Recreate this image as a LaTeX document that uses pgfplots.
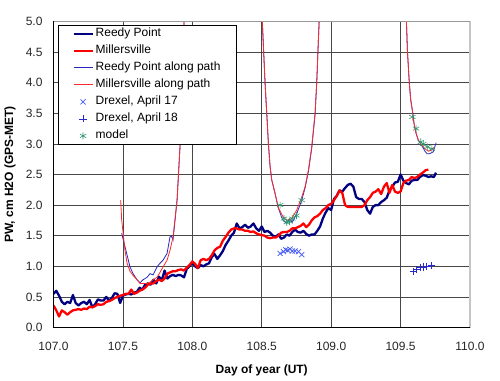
\documentclass[border=0pt]{standalone}
\usepackage{pgfplots}
\pgfplotsset{compat=1.18}
\usepackage{fontspec}
\setmainfont{Liberation Sans}
\definecolor{rpnavy}{RGB}{0,0,128}
\definecolor{mvred}{RGB}{255,0,0}
\definecolor{rpthin}{RGB}{40,40,190}
\definecolor{mvthin}{RGB}{255,40,40}
\definecolor{drexA}{RGB}{70,90,245}
\definecolor{drexB}{RGB}{40,40,210}
\definecolor{modelgreen}{RGB}{50,150,110}
\newcommand{\chartfont}{\fontsize{12bp}{14bp}\selectfont}
\begin{document}
\begin{tikzpicture}
\begin{axis}[
  scale only axis, width=416.5bp, height=306bp,
  xmin=107, xmax=110, ymin=0, ymax=5,
  xtick={107,107.5,108,108.5,109,109.5,110},
  ytick={0,0.5,1,1.5,2,2.5,3,3.5,4,4.5,5},
  grid=major,
  major grid style={draw=black!72, line width=0.8bp},
  major tick length=0pt,
  axis line style={draw=none},
  tick label style={font=\chartfont, text=black!85},
  /pgf/number format/assume math mode=true,
  xticklabel style={/pgf/number format/.cd, fixed, fixed zerofill, precision=1, /tikz/.cd, yshift=-11bp},
  yticklabel style={/pgf/number format/.cd, fixed, fixed zerofill, precision=1, /tikz/.cd, xshift=-7.5bp},
  xlabel={Day of year (UT)},
  ylabel={PW, cm H2O (GPS-MET)},
  every axis x label/.style={at={(axis description cs:0.5,-0.139)}, anchor=center, font=\chartfont\bfseries},
  every axis y label/.style={at={(axis description cs:-0.1044,0.5)}, rotate=90, anchor=center, font=\chartfont\bfseries},
  clip=true,
  legend cell align=left,
  legend style={at={(axis description cs:0.0108,0.9886)}, anchor=north west, draw=black, line width=0.8bp, fill=white,
    font=\chartfont, inner xsep=14bp, inner ysep=0pt, row sep=0pt,
    nodes={text height=9bp, text depth=3bp, inner ysep=2.5bp, inner xsep=2bp}},
  lineleg/.style={legend image code/.code={\draw[##1] (0bp,0bp) -- (19bp,0bp);}},
  markleg/.style={legend image code/.code={\draw[##1] plot coordinates {(9.5bp,0bp)};}},
]
% Reedy Point
\addplot[color=rpnavy, line width=2.3bp, line join=round, lineleg] coordinates {
(107.00,0.55)(107.02,0.60)(107.04,0.52)(107.06,0.42)(107.08,0.38)(107.10,0.42)(107.12,0.40)(107.14,0.53)(107.16,0.40)(107.18,0.36)
(107.20,0.40)(107.22,0.42)(107.24,0.38)(107.26,0.45)(107.28,0.33)(107.30,0.38)(107.32,0.46)(107.34,0.44)(107.36,0.44)(107.38,0.50)
(107.40,0.44)(107.42,0.48)(107.44,0.56)(107.46,0.55)(107.48,0.40)(107.50,0.52)(107.52,0.54)(107.54,0.55)(107.56,0.54)(107.58,0.57)
(107.60,0.58)(107.62,0.65)(107.64,0.62)(107.66,0.70)(107.68,0.72)(107.70,0.70)(107.72,0.78)(107.74,0.72)(107.76,0.83)(107.78,0.77)
(107.80,0.93)(107.82,0.80)(107.84,0.84)(107.86,0.86)(107.88,0.84)(107.90,0.86)(107.92,0.85)(107.94,0.82)(107.96,0.96)(107.98,1.00)
(108.00,1.06)(108.02,1.00)(108.04,0.97)(108.06,1.02)(108.08,1.00)(108.10,1.03)(108.12,1.05)(108.14,1.15)(108.16,1.20)(108.18,1.12)
(108.20,1.18)(108.22,1.25)(108.24,1.35)(108.26,1.42)(108.28,1.50)(108.30,1.55)(108.32,1.70)(108.34,1.62)(108.36,1.64)(108.38,1.68)
(108.40,1.63)(108.42,1.65)(108.44,1.70)(108.46,1.62)(108.48,1.58)(108.50,1.65)(108.52,1.56)(108.54,1.58)(108.56,1.55)(108.58,1.50)
(108.60,1.48)(108.62,1.52)(108.64,1.45)(108.66,1.47)(108.68,1.52)(108.70,1.50)(108.72,1.56)(108.74,1.60)(108.76,1.56)(108.78,1.55)
(108.80,1.58)(108.82,1.53)(108.84,1.50)(108.86,1.52)(108.88,1.52)(108.90,1.58)(108.92,1.65)(108.94,1.78)(108.96,1.88)(108.98,1.95)
(109.00,1.92)(109.02,2.10)(109.04,2.15)(109.06,2.24)(109.08,2.22)(109.10,2.28)(109.12,2.33)(109.14,2.35)(109.16,2.30)(109.18,2.13)
(109.20,2.10)(109.22,2.10)(109.24,2.05)(109.26,1.92)(109.28,1.86)(109.30,1.97)(109.32,2.00)(109.34,2.00)(109.36,2.05)(109.38,2.08)
(109.40,2.12)(109.42,2.24)(109.44,2.30)(109.46,2.37)(109.48,2.38)(109.50,2.50)(109.52,2.40)(109.54,2.36)(109.56,2.34)(109.58,2.40)
(109.60,2.41)(109.62,2.41)(109.64,2.46)(109.66,2.49)(109.68,2.48)(109.70,2.46)(109.72,2.47)(109.74,2.46)(109.755,2.53)
};
\addlegendentry{Reedy Point}
% Millersville
\addplot[color=mvred, line width=2.3bp, line join=round, lineleg] coordinates {
(107.00,0.36)(107.02,0.28)(107.04,0.18)(107.06,0.28)(107.08,0.25)(107.10,0.21)(107.12,0.25)(107.14,0.28)(107.16,0.29)(107.18,0.30)
(107.20,0.29)(107.22,0.31)(107.24,0.30)(107.26,0.34)(107.28,0.33)(107.30,0.35)(107.32,0.38)(107.34,0.37)(107.36,0.38)(107.38,0.42)
(107.40,0.43)(107.42,0.45)(107.44,0.48)(107.46,0.50)(107.48,0.52)(107.50,0.53)(107.52,0.55)(107.54,0.55)(107.56,0.62)(107.58,0.55)
(107.60,0.57)(107.62,0.60)(107.64,0.62)(107.66,0.65)(107.68,0.70)(107.70,0.72)(107.72,0.72)(107.74,0.76)(107.76,0.78)(107.78,0.76)
(107.80,0.80)(107.82,0.88)(107.84,0.90)(107.86,0.92)(107.88,0.92)(107.90,0.94)(107.92,0.95)(107.94,0.93)(107.96,0.98)(107.98,1.02)
(108.00,1.08)(108.02,1.04)(108.04,0.97)(108.06,1.10)(108.08,1.12)(108.10,1.10)(108.12,1.12)(108.14,1.18)(108.16,1.26)(108.18,1.30)
(108.20,1.32)(108.22,1.42)(108.24,1.48)(108.26,1.55)(108.28,1.60)(108.30,1.62)(108.32,1.62)(108.34,1.60)(108.36,1.60)(108.38,1.58)
(108.40,1.58)(108.42,1.56)(108.44,1.57)(108.46,1.54)(108.48,1.52)(108.50,1.51)(108.52,1.50)(108.54,1.47)(108.56,1.46)(108.58,1.47)
(108.60,1.47)(108.62,1.50)(108.64,1.55)(108.66,1.56)(108.68,1.56)(108.70,1.58)(108.72,1.62)(108.74,1.62)(108.76,1.64)(108.78,1.66)
(108.80,1.70)(108.82,1.64)(108.84,1.68)(108.86,1.75)(108.88,1.80)(108.90,1.82)(108.92,1.86)(108.94,1.92)(108.96,1.95)(108.98,2.00)
(109.00,2.02)(109.02,2.08)(109.04,2.15)(109.06,2.24)(109.08,2.20)(109.10,2.00)(109.12,1.97)(109.14,1.97)(109.16,1.97)(109.18,1.97)
(109.20,1.97)(109.22,1.97)(109.24,2.00)(109.26,2.08)(109.28,2.13)(109.30,2.20)(109.32,2.22)(109.34,2.26)(109.36,2.18)(109.38,2.30)
(109.40,2.36)(109.42,2.20)(109.44,2.33)(109.46,2.22)(109.48,2.20)(109.50,2.22)(109.52,2.36)(109.54,2.40)(109.56,2.41)(109.58,2.46)
(109.60,2.44)(109.62,2.46)(109.64,2.50)(109.66,2.53)(109.68,2.57)(109.70,2.58)
};
\addlegendentry{Millersville}
% Reedy Point along path
\addplot[color=rpthin, line width=0.8bp, lineleg] coordinates {
(107.491,1.54)(107.515,1.32)(107.551,0.99)(107.573,0.88)(107.602,0.78)(107.623,0.73)(107.645,0.78)(107.674,0.82)(107.695,0.88)
(107.717,0.86)(107.746,0.99)(107.767,1.05)(107.789,1.10)(107.818,1.21)(107.839,1.48)(107.850,1.49)(107.861,1.43)(107.890,2.08)
(107.911,2.95)(107.945,5.30)
(108.497,5.30)(108.504,5.00)(108.524,3.99)(108.536,3.50)(108.548,3.00)(108.560,2.63)(108.572,2.41)(108.596,2.19)(108.620,1.95)
(108.650,1.76)(108.680,1.70)(108.700,1.78)(108.720,1.72)(108.752,1.86)(108.788,2.08)(108.812,2.28)(108.836,2.55)(108.860,2.93)
(108.884,3.48)(108.896,4.00)(108.908,4.70)(108.919,5.30)
(109.537,5.30)(109.545,4.81)(109.549,4.53)(109.556,4.26)(109.563,3.99)(109.573,3.72)(109.588,3.50)(109.597,3.33)(109.612,3.17)
(109.628,3.06)(109.653,2.97)(109.676,2.88)(109.690,2.84)(109.710,2.84)(109.735,2.87)(109.756,3.02)
};
\addlegendentry{Reedy Point along path}
% Millersville along path
\addplot[color=mvthin, line width=0.8bp, lineleg] coordinates {
(107.484,2.08)(107.491,1.76)(107.515,1.26)(107.530,1.05)(107.551,0.92)(107.573,0.85)(107.602,0.78)(107.623,0.72)(107.645,0.72)
(107.674,0.72)(107.695,0.74)(107.717,0.78)(107.746,0.82)(107.767,0.90)(107.789,0.99)(107.818,1.10)(107.839,1.26)(107.861,1.48)
(107.890,2.08)(107.911,2.95)(107.945,5.30)
(108.498,5.30)(108.504,5.00)(108.524,3.99)(108.536,3.50)(108.548,3.00)(108.560,2.63)(108.572,2.41)(108.596,2.19)(108.617,1.97)
(108.653,1.81)(108.680,1.75)(108.716,1.78)(108.752,1.92)(108.788,2.13)(108.812,2.30)(108.836,2.57)(108.860,2.95)(108.884,3.50)
(108.896,4.00)(108.908,4.70)(108.919,5.30)
(109.537,5.30)(109.545,4.81)(109.549,4.53)(109.556,4.26)(109.563,3.99)(109.573,3.72)(109.588,3.50)(109.597,3.33)(109.612,3.17)
(109.628,3.06)(109.653,2.98)(109.676,2.92)(109.700,2.88)(109.725,2.90)(109.745,2.95)
};
\addlegendentry{Millersville along path}
% Drexel April 17
\addplot[only marks, mark=x, mark size=3.6bp, color=drexA, mark options={line width=0.7bp}, markleg] coordinates {
(108.632,1.21)(108.656,1.24)(108.672,1.27)(108.688,1.26)(108.704,1.28)(108.720,1.25)(108.740,1.25)(108.764,1.24)(108.788,1.19)
};
\addlegendentry{Drexel, April 17}
% Drexel April 18
\addplot[only marks, mark=+, mark size=3.6bp, color=drexB, mark options={line width=0.7bp}, markleg] coordinates {
(109.592,0.91)(109.617,0.95)(109.640,0.98)(109.664,0.99)(109.689,1.00)(109.725,1.01)
};
\addlegendentry{Drexel, April 18}
% model
\addplot[only marks, mark=asterisk, mark size=3.6bp, color=modelgreen, mark options={line width=0.6bp}, markleg] coordinates {
(108.632,2.00)(108.660,1.78)(108.680,1.72)(108.700,1.73)(108.720,1.78)(108.750,1.83)(108.788,2.08)
(109.585,3.44)(109.612,3.25)(109.645,3.03)(109.664,3.00)(109.693,2.95)(109.725,2.92)
};
\addlegendentry{model}
\end{axis}
\draw[gray!45, line width=2bp] (416.5bp,0bp) -- (416.5bp,306bp);
\draw[gray!80, line width=0.8bp] (0bp,306bp) -- (416.5bp,306bp);
\draw[black, line width=0.9bp] (0bp,306bp) -- (0bp,0bp) -- (416.5bp,0bp);
\pgfresetboundingbox
\useasboundingbox (-53.5bp,-53.5bp) rectangle (446.5bp,327.5bp);
\end{tikzpicture}
\end{document}
